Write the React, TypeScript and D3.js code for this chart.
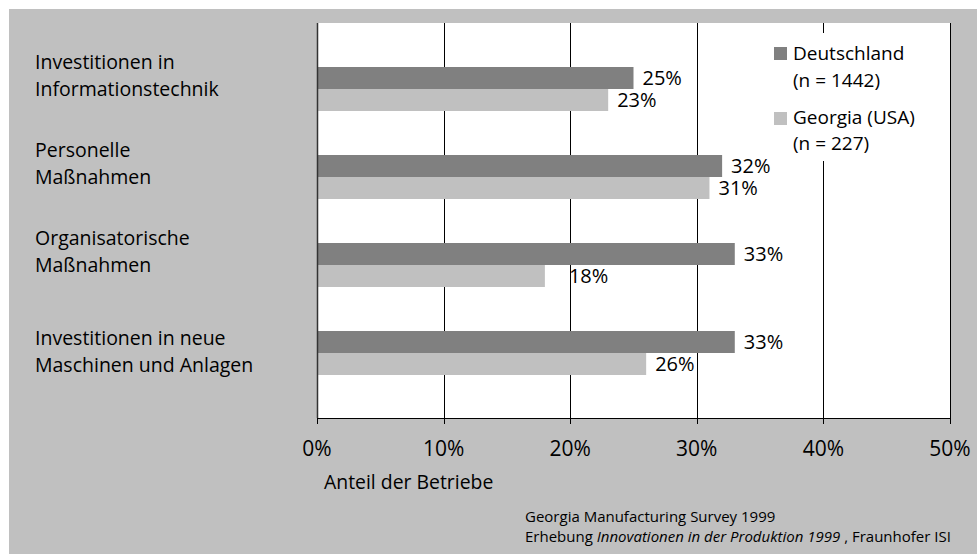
import React from "react";
import * as d3 from "d3";

const categories = [
  ["Investitionen in", "Informationstechnik"],
  ["Personelle", "Maßnahmen"],
  ["Organisatorische", "Maßnahmen"],
  ["Investitionen in neue", "Maschinen und Anlagen"],
];
const seriesNames = ["Deutschland", "Georgia (USA)"];
const seriesN = ["(n = 1442)", "(n = 227)"];
const deutschland = [25, 32, 33, 33];
const georgia = [23, 31, 18, 26];
const xTicks = [0, 10, 20, 30, 40, 50];
const axisTitle = "Anteil der Betriebe";
const source1 = "Georgia Manufacturing Survey 1999";

// layout (not data)
const colors = ["#808080", "#c0c0c0"];
const labelDy = [0, 0, 0, 12];
const valueNudge = [[0, 0], [0, 0], [0, 15], [0, 0]];

const W = 977;
const H = 554;
const left = 317, right = 950, top = 23, bottom = 418;
const font = "'Open Sans', sans-serif";

export default function App() {
  const x = d3.scaleLinear().domain([0, 50]).range([left, right]);
  const y = d3
    .scaleBand<number>()
    .domain(d3.range(categories.length))
    .range([45, 397])
    .paddingInner(0.5)
    .paddingOuter(0.25);
  const sub = d3.scaleBand<number>().domain([0, 1]).range([0, y.bandwidth()]);
  const series = [deutschland, georgia];

  return (
    <svg
      width={W}
      height={H}
      style={{ position: "absolute", left: 0, top: 0, display: "block" }}
    >
      <rect x={0} y={0} width={W} height={H} fill="#ffffff" />
      <rect x={9} y={9} width={W - 9} height={H - 9} fill="#c0c0c0" />
      <rect x={left} y={top} width={right - left} height={bottom - top} fill="#ffffff" />

      {/* gridlines */}
      {xTicks.slice(1).map((t) => (
        <line
          key={"g" + t}
          x1={Math.round(x(t)) + 0.5}
          x2={Math.round(x(t)) + 0.5}
          y1={top}
          y2={bottom}
          stroke="#000"
          strokeWidth={1}
        />
      ))}

      {/* legend box */}
      <rect x={766} y={33} width={168} height={128} fill="#ffffff" />
      {seriesNames.map((s, i) => (
        <g key={"l" + i}>
          <rect x={774} y={47 + i * 65} width={13} height={13} fill={colors[i]} />
          <text x={793} y={60 + i * 64} fontFamily={font} fontSize={19} fill="#000">
            {s}
          </text>
          <text x={793} y={87 + i * 63} fontFamily={font} fontSize={19} fill="#000">
            {seriesN[i]}
          </text>
        </g>
      ))}

      {/* bars */}
      {series.map((vals, si) =>
        vals.map((v, ci) => {
          const y0 = (y(ci) as number) + (sub(si) as number);
          return (
            <rect
              key={"b" + si + "-" + ci}
              x={x(0)}
              y={y0}
              width={x(v) - x(0)}
              height={sub.bandwidth()}
              fill={colors[si]}
            />
          );
        })
      )}

      {/* value labels */}
      {series.map((vals, si) =>
        vals.map((v, ci) => {
          const y0 = (y(ci) as number) + (sub(si) as number) + sub.bandwidth() / 2;
          return (
            <text
              key={"v" + si + "-" + ci}
              x={x(v) + 9 + valueNudge[ci][si]}
              y={y0 + 7}
              fontFamily={font}
              fontSize={20}
              fill="#000"
            >
              {v + "%"}
            </text>
          );
        })
      )}

      {/* axes */}
      <line x1={left + 0.5} x2={left + 0.5} y1={top} y2={bottom} stroke="#333" strokeWidth={1.5} />
      <line x1={left} x2={right + 1} y1={bottom + 0.5} y2={bottom + 0.5} stroke="#000" strokeWidth={1} />
      {xTicks.map((t) => (
        <g key={"t" + t}>
          <line
            x1={Math.round(x(t)) + 0.5}
            x2={Math.round(x(t)) + 0.5}
            y1={bottom}
            y2={bottom + 6}
            stroke="#000"
          />
          <text
            x={x(t)}
            y={456}
            textAnchor="middle"
            fontFamily={font}
            fontSize={21}
            fill="#000"
          >
            {t + "%"}
          </text>
        </g>
      ))}
      <text x={324} y={489} fontFamily={font} fontSize={19.4} fill="#000">
        {axisTitle}
      </text>

      {/* category labels */}
      {categories.map((lines, ci) => {
        const c = (y(ci) as number) + y.bandwidth() / 2;
        return (
          <text key={"c" + ci} fontFamily={font} fontSize={19.5} fill="#000">
            {lines.map((ln, li) => (
              <tspan key={li} x={35} y={c - 20.5 + labelDy[ci] + li * 27.5}>
                {ln}
              </tspan>
            ))}
          </text>
        );
      })}

      {/* source */}
      <text x={525} y={521.5} fontFamily={font} fontSize={15} fill="#000">
        {source1}
      </text>
      <text x={525} y={541.5} fontFamily={font} fontSize={15} fill="#000">
        <tspan>Erhebung </tspan>
        <tspan fontStyle="italic">Innovationen in der Produktion 1999</tspan>
        <tspan> , Fraunhofer ISI</tspan>
      </text>
    </svg>
  );
}
